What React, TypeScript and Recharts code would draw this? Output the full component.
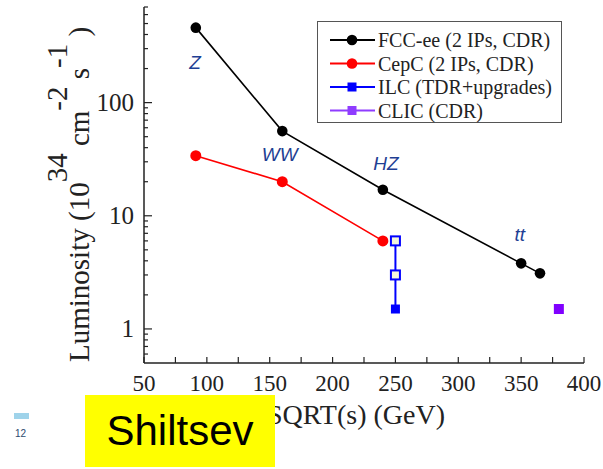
import { LineChart, Line, XAxis, YAxis, Legend, ReferenceDot } from "recharts";

// Luminosity vs collision energy for the e+e- Higgs factory proposals.
const SERIES = ["FCC-ee (2 IPs, CDR)", "CepC (2 IPs, CDR)", "ILC (TDR+upgrades)", "CLIC (CDR)"];
const FCC_X = [91.2, 160, 240, 350, 365];
const FCC_Y = [460, 56, 17, 3.8, 3.1];
const CEPC_X = [91.2, 160, 240];
const CEPC_Y = [34, 20, 6];
const ILC_X = [250, 250, 250];
const ILC_Y = [6, 3, 1.5];
const ILC_OPEN = [true, true, false];
const CLIC_X = [380];
const CLIC_Y = [1.5];

const X_TICKS = [50, 75, 100, 125, 150, 175, 200, 225, 250, 275, 300, 325, 350, 375, 400];
const X_LABELS = [50, 100, 150, 200, 250, 300, 350, 400];
const Y_TICKS = [
  0.6, 0.7, 0.8, 0.9, 1, 2, 3, 4, 5, 6, 7, 8, 9, 10, 20, 30, 40, 50, 60, 70, 80, 90, 100, 200,
  300, 400, 500, 600, 700,
];
const Y_LABELS = [1, 10, 100];

const NOTE_TEXT = ["Z", "WW", "HZ", "tt"];
const NOTE_X = [90.6, 158, 242.5, 349];
const NOTE_Y = [228, 35, 28.7, 6.9];

const FRAME = "#222";
const SERIF = "'Liberation Serif', 'Times New Roman', serif";
const SANS = "'Liberation Sans', Arial, sans-serif";
const NOTE_BLUE = "#1f3f94";
const MARKER = ["circle", "circle", "square", "square"];

const toPoints = (xs: number[], ys: number[]) => xs.map((x, i) => ({ x, y: ys[i] }));

function BottomTick(props: any) {
  const { x, y, payload } = props;
  const v = payload.value;
  return (
    <g>
      <line x1={x} x2={x} y1={y} y2={y - 6} stroke={FRAME} strokeWidth={1.2} />
      {X_LABELS.includes(v) && (
        <text
          x={x}
          y={y + 28}
          textAnchor="middle"
          fontSize={23}
          fill="#222"
          fontFamily="Liberation Serif"
        >
          {v}
        </text>
      )}
    </g>
  );
}

function TopTick(props: any) {
  const { x, y } = props;
  return <line x1={x} x2={x} y1={y} y2={y + 6} stroke={FRAME} strokeWidth={1.2} />;
}

function LeftTick(props: any) {
  const { x, y, payload } = props;
  const major = Y_LABELS.includes(payload.value);
  return (
    <g>
      <line x1={x} x2={x + (major ? 8 : 4)} y1={y} y2={y} stroke={FRAME} strokeWidth={1.2} />
      {major && (
        <text
          x={x - 10}
          y={y + 8}
          textAnchor="end"
          fontSize={25}
          fill="#222"
          fontFamily="Liberation Serif"
        >
          {payload.value}
        </text>
      )}
    </g>
  );
}

function RightTick(props: any) {
  const { x, y, payload } = props;
  const major = Y_LABELS.includes(payload.value);
  return <line x1={x} x2={x - (major ? 8 : 4)} y1={y} y2={y} stroke={FRAME} strokeWidth={1.2} />;
}

function YTitle() {
  return (
    <text
      x={89}
      y={362}
      transform="rotate(-90, 89, 362)"
      fontSize={29}
      fill="#222"
      style={{ fontFamily: SERIF }}
    >
      Luminosity (10
      <tspan dy={-22}>34</tspan>
      <tspan dy={22}> cm</tspan>
      <tspan dy={-22}>-2</tspan>
      <tspan dy={22}> s</tspan>
      <tspan dy={-22}>-1</tspan>
      <tspan dy={22}> )</tspan>
    </text>
  );
}

function XTitle() {
  return (
    <text x={356} y={424} textAnchor="middle" fontSize={28} fill="#222" style={{ fontFamily: SERIF }}>
      SQRT(s) (GeV)
    </text>
  );
}

function LegendBox(props: any) {
  const items = [...(props.payload || [])].sort(
    (a: any, b: any) => SERIES.indexOf(a.value) - SERIES.indexOf(b.value)
  );
  return (
    <svg width={245} height={102} style={{ display: "block" }}>
      <rect x={0.5} y={0.5} width={244} height={101} fill="#fff" stroke="#555" strokeWidth={1} />
      {items.map((it: any, i: number) => {
        const cy = 19 + i * 23.5;
        const shape = MARKER[SERIES.indexOf(it.value)];
        return (
          <g key={it.value}>
            <line x1={13} x2={58} y1={cy} y2={cy} stroke={it.color} strokeWidth={2} />
            {shape === "circle" ? (
              <circle cx={35} cy={cy} r={5.3} fill={it.color} />
            ) : (
              <rect x={30.5} y={cy - 4.5} width={9} height={9} fill={it.color} />
            )}
            <text x={61} y={cy + 7} fontSize={20} fill="#222" style={{ fontFamily: SERIF }}>
              {it.value}
            </text>
          </g>
        );
      })}
    </svg>
  );
}

function IlcDot(props: any) {
  const { cx, cy, index } = props;
  const open = ILC_OPEN[index];
  return (
    <rect
      x={cx - 4.5}
      y={cy - 4.5}
      width={9}
      height={9}
      fill={open ? "#f4f6dc" : "#0000ff"}
      stroke="#0000ff"
      strokeWidth={open ? 2 : 0}
    />
  );
}

function ClicDot(props: any) {
  const { cx, cy } = props;
  return <rect x={cx - 5} y={cy - 5} width={10} height={10} fill="#8000ff" />;
}

function NoteLabel(lp: any) {
  const vb = lp.viewBox || {};
  const cx = (vb.x ?? 0) + (vb.width ?? 0) / 2;
  const cy = (vb.y ?? 0) + (vb.height ?? 0) / 2;
  return (
    <text
      x={cx}
      y={cy}
      textAnchor="middle"
      dominantBaseline="central"
      fontStyle="italic"
      fontSize={19}
      fill={NOTE_BLUE}
      style={{ fontFamily: SANS }}
    >
      {lp.value}
    </text>
  );
}

export default function App() {
  return (
    <div style={{ position: "absolute", left: 0, top: 0, width: 603, height: 469, background: "#fff" }}>
      <LineChart width={603} height={469} margin={{ top: 7, right: 19, bottom: 76, left: 84 }}>
        <XAxis
          dataKey="x"
          type="number"
          domain={[50, 400]}
          ticks={X_TICKS}
          interval={0}
          allowDataOverflow
          tickSize={0}
          tickMargin={0}
          height={30}
          tick={<BottomTick />}
          axisLine={{ stroke: FRAME, strokeWidth: 1.5 }}
          label={{ content: () => <XTitle /> }}
        />
        <XAxis
          xAxisId="top"
          orientation="top"
          dataKey="x"
          type="number"
          domain={[50, 400]}
          ticks={X_TICKS}
          interval={0}
          allowDataOverflow
          tickSize={0}
          tickMargin={0}
          height={0}
          tick={<TopTick />}
          axisLine={{ stroke: FRAME, strokeWidth: 1.5 }}
        />
        <YAxis
          type="number"
          scale="log"
          domain={[0.5, 700]}
          ticks={Y_TICKS}
          interval={0}
          allowDataOverflow
          tickSize={0}
          tickMargin={0}
          width={60}
          tick={<LeftTick />}
          axisLine={{ stroke: FRAME, strokeWidth: 1.5 }}
          label={{ content: () => <YTitle /> }}
        />
        <YAxis
          yAxisId="right"
          orientation="right"
          type="number"
          scale="log"
          domain={[0.5, 700]}
          ticks={Y_TICKS}
          interval={0}
          allowDataOverflow
          tickSize={0}
          tickMargin={0}
          width={0}
          tick={<RightTick />}
          axisLine={{ stroke: FRAME, strokeWidth: 1.5 }}
        />
        <Legend
          layout="vertical"
          align="center"
          verticalAlign="middle"
          content={<LegendBox />}
          wrapperStyle={{ position: "absolute", left: 317, top: 21, width: 245, height: 102 }}
        />
        <Line
          name={SERIES[0]}
          data={toPoints(FCC_X, FCC_Y)}
          dataKey="y"
          stroke="#000"
          strokeWidth={1.6}
          dot={{ r: 5.3, fill: "#000", stroke: "#000", strokeWidth: 0 }}
          isAnimationActive={false}
        />
        <Line
          name={SERIES[1]}
          data={toPoints(CEPC_X, CEPC_Y)}
          dataKey="y"
          stroke="#ff0000"
          strokeWidth={1.6}
          dot={{ r: 5.5, fill: "#ff0000", stroke: "#ff0000", strokeWidth: 0 }}
          isAnimationActive={false}
        />
        <Line
          name={SERIES[2]}
          data={toPoints(ILC_X, ILC_Y)}
          dataKey="y"
          stroke="#0000ff"
          strokeWidth={2}
          dot={(p: any) => <IlcDot {...p} key={p.index} />}
          isAnimationActive={false}
        />
        <Line
          name={SERIES[3]}
          data={toPoints(CLIC_X, CLIC_Y)}
          dataKey="y"
          stroke="#8f3cff"
          strokeWidth={2}
          dot={(p: any) => <ClicDot {...p} key={p.index} />}
          isAnimationActive={false}
        />
        {NOTE_TEXT.map((t, i) => (
          <ReferenceDot
            key={t}
            x={NOTE_X[i]}
            y={NOTE_Y[i]}
            r={0}
            fill="none"
            stroke="none"
            label={{ value: t, content: (lp: any) => <NoteLabel {...lp} value={t} /> }}
          />
        ))}
      </LineChart>
      <div style={{ position: "absolute", left: 14, top: 413, width: 15, height: 6, background: "#9fd3ea" }} />
      <div
        style={{
          position: "absolute",
          left: 15,
          top: 428,
          fontFamily: SANS,
          fontSize: 10,
          color: "#2e4a6e",
        }}
      >
        12
      </div>
      <div
        style={{
          position: "absolute",
          left: 85,
          top: 395,
          width: 190,
          height: 72,
          background: "#ffff00",
          fontFamily: SANS,
          fontSize: 42,
          color: "#000",
          display: "flex",
          alignItems: "center",
          justifyContent: "center",
        }}
      >
        Shiltsev
      </div>
    </div>
  );
}
